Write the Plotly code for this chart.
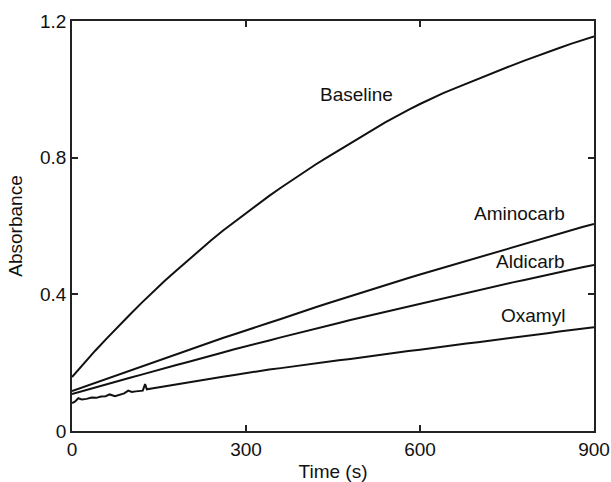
import plotly.graph_objects as go

# ---- data ----
time_s = [0, 20, 40, 60, 80, 100, 120, 140, 160, 180, 200, 220, 240, 260, 280, 300,
          320, 340, 360, 380, 400, 420, 440, 460, 480, 500, 520, 540, 560, 580, 600,
          620, 640, 660, 680, 700, 720, 740, 760, 780, 800, 820, 840, 860, 880, 900]

baseline = [0.158, 0.197, 0.235, 0.271, 0.307, 0.341, 0.375, 0.408, 0.440, 0.470,
            0.500, 0.530, 0.558, 0.586, 0.612, 0.638, 0.664, 0.688, 0.712, 0.735,
            0.758, 0.780, 0.801, 0.822, 0.843, 0.864, 0.883, 0.903, 0.922, 0.940,
            0.957, 0.974, 0.989, 1.003, 1.017, 1.031, 1.044, 1.057, 1.071, 1.084,
            1.097, 1.109, 1.121, 1.133, 1.144, 1.155]

aminocarb = [0.117, 0.129, 0.142, 0.154, 0.166, 0.178, 0.190, 0.202, 0.214, 0.225,
             0.237, 0.249, 0.260, 0.272, 0.283, 0.295, 0.306, 0.317, 0.328, 0.340,
             0.351, 0.362, 0.373, 0.384, 0.394, 0.405, 0.416, 0.426, 0.437, 0.448,
             0.458, 0.468, 0.479, 0.489, 0.499, 0.509, 0.519, 0.529, 0.539, 0.549,
             0.559, 0.569, 0.578, 0.588, 0.597, 0.606]

aldicarb = [0.108, 0.118, 0.127, 0.137, 0.147, 0.156, 0.165, 0.175, 0.184, 0.193,
            0.202, 0.212, 0.221, 0.230, 0.239, 0.247, 0.256, 0.265, 0.274, 0.282,
            0.291, 0.299, 0.308, 0.316, 0.325, 0.333, 0.341, 0.349, 0.357, 0.365,
            0.373, 0.381, 0.389, 0.397, 0.405, 0.412, 0.420, 0.428, 0.435, 0.442,
            0.450, 0.457, 0.464, 0.472, 0.479, 0.486]

oxamyl_time = [0, 5, 11, 17, 25, 34, 42, 50, 58, 65, 74, 82, 90, 97, 103, 110, 117,
               122, 126, 129, 140, 160, 180, 200, 220, 240, 260, 280, 300, 320, 340,
               360, 380, 400, 420, 440, 460, 480, 500, 520, 540, 560, 580, 600, 620,
               640, 660, 680, 700, 720, 740, 760, 780, 800, 820, 840, 860, 880, 900]
oxamyl = [0.082, 0.086, 0.096, 0.092, 0.094, 0.098, 0.097, 0.101, 0.102, 0.107,
          0.102, 0.107, 0.110, 0.118, 0.114, 0.116, 0.117, 0.118, 0.137, 0.122,
          0.125, 0.131, 0.136, 0.142, 0.148, 0.153, 0.159, 0.164, 0.170, 0.175,
          0.180, 0.184, 0.189, 0.193, 0.198, 0.202, 0.207, 0.211, 0.216, 0.220,
          0.225, 0.229, 0.234, 0.238, 0.243, 0.247, 0.251, 0.256, 0.260, 0.264,
          0.269, 0.273, 0.277, 0.282, 0.286, 0.291, 0.295, 0.299, 0.304]

x_ticks = [0, 300, 600, 900]
y_ticks = [0, 0.4, 0.8, 1.2]
y_tick_labels = ["0", "0.4", "0.8", "1.2"]

FONT = "Liberation Sans, Arial, sans-serif"
INK = "#111111"

fig = go.Figure()
for xs, ys, name in [(time_s, baseline, "Baseline"),
                     (time_s, aminocarb, "Aminocarb"),
                     (time_s, aldicarb, "Aldicarb"),
                     (oxamyl_time, oxamyl, "Oxamyl")]:
    fig.add_trace(go.Scatter(x=xs, y=ys, mode="lines", name=name,
                             line=dict(color="#111111", width=2)))

labels = [
    ("Baseline", 491, 0.986, "center"),
    ("Aminocarb", 853, 0.638, "right"),
    ("Aldicarb", 853, 0.495, "right"),
    ("Oxamyl", 853, 0.337, "right"),
]
for text, x, y, anchor in labels:
    fig.add_annotation(x=x, y=y, text=text, showarrow=False, xanchor=anchor,
                       yanchor="middle", font=dict(family=FONT, size=19, color=INK))

axis_common = dict(showgrid=False, zeroline=False, showline=True, linecolor="#222222",
                   linewidth=1.5, mirror="ticks", ticks="inside", ticklen=6,
                   tickwidth=1.5, tickcolor="#222222", automargin=False,
                   tickfont=dict(family=FONT, size=19, color=INK))

fig.update_xaxes(range=[0, 900], tickvals=x_ticks, ticktext=[str(v) for v in x_ticks],
                 title=dict(text="Time (s)", font=dict(family=FONT, size=19, color=INK),
                            standoff=10),
                 **axis_common)
fig.update_yaxes(range=[0, 1.2], tickvals=y_ticks, ticktext=y_tick_labels,
                 title=dict(text="Absorbance", font=dict(family=FONT, size=19, color=INK),
                            standoff=12),
                 **axis_common)

fig.update_layout(width=611, height=482, showlegend=False,
                  paper_bgcolor="white", plot_bgcolor="white",
                  margin=dict(l=72, r=17, t=21, b=51))

fig.write_html("out.html")
